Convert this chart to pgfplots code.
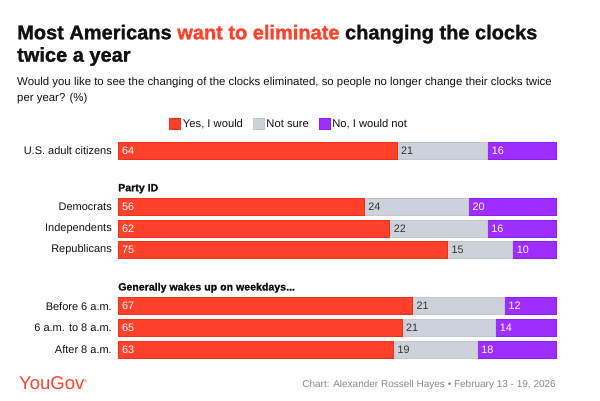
\documentclass[border=0pt]{standalone}
\usepackage{pgfplots}
\pgfplotsset{compat=1.18}
\usepackage{pgfplotstable}
\usepackage{fontspec}
\setmainfont{Liberation Sans}
\newfontfamily\heavy{Liberation Sans Bold}[FakeBold=1.3]

\definecolor{ink}{HTML}{111111}
\definecolor{ygred}{HTML}{FF412C}
\definecolor{ygredd}{HTML}{EC3320}
\definecolor{ygrey}{HTML}{CDD1DA}
\definecolor{ygreyd}{HTML}{C3C7D0}
\definecolor{ygpurp}{HTML}{9E2EFF}
\definecolor{ygpurpd}{HTML}{8C20EE}
\definecolor{foot}{HTML}{8A8A8A}

% y = row centre in pixels, shares, labels as printed
\pgfplotstableread{
y     yes   ns    no    yl  nl  ol
150.8 63.7  20.7  15.6  64  21  16
207   56.2  23.8  20.0  56  24  20
228.7 62.0  22.3  15.7  62  22  16
249.7 75.2  14.9  9.9   75  15  10
306.2 67.2  21.0  11.8  67  21  12
328   64.8  21.4  13.8  65  21  14
349.7 62.9  19.1  18.0  63  19  18
}\data

\pgfplotsset{
  sq/.style={legend image code/.code={\draw[##1,line width=0.5pt] (0pt,-5.5pt) rectangle (11pt,5.5pt);}},
  frame/.style={at={(118pt,-140pt)}, anchor=north west, scale only axis,
    width=438pt, height=222pt, xmin=0, xmax=100, ymin=140, ymax=362,
    y dir=reverse, clip=false},
}

\begin{document}
\begin{tikzpicture}[x=1pt,y=1pt]
\useasboundingbox[fill=white] (0,0) rectangle (600,-400);

\node[anchor=base west, inner sep=0, text=ink, font=\fontsize{20}{22}\heavy]
  at (17,-39.3) {Most Americans \textcolor{ygred}{want to eliminate} changing the clocks};
\node[anchor=base west, inner sep=0, text=ink, font=\fontsize{20}{22}\heavy]
  at (17,-61.7) {twice a year};
\node[anchor=base west, inner sep=0, text=ink, font=\fontsize{11.4}{13}\selectfont]
  at (17,-85) {Would you like to see the changing of the clocks eliminated, so people no longer change their clocks twice};
\node[anchor=base west, inner sep=0, text=ink, font=\fontsize{11.4}{13}\selectfont]
  at (17,-101) {per year? (\%)};

\node[anchor=base west, inner sep=0, text=ink, font=\fontsize{10.6}{12}\heavy]
  at (118,-191.3) {Party ID};
\node[anchor=base west, inner sep=0, text=ink, font=\fontsize{10.6}{12}\heavy]
  at (118,-290.5) {Generally wakes up on weekdays...};

\begin{axis}[frame,
  xbar stacked, bar width=17pt,
  axis line style={draw=none}, tick style={draw=none}, major tick length=0pt,
  xtick=\empty,
  ytick={150.8,207,228.7,249.7,306.2,328,349.7},
  yticklabels={U.S. adult citizens,Democrats,Independents,Republicans,Before 6 a.m.,6 a.m. to 8 a.m.,After 8 a.m.},
  yticklabel style={font=\fontsize{11}{13}\selectfont, text=ink, inner sep=0pt, xshift=-6pt},
  legend columns=3,
  legend style={at={(axis cs:39.1,124)}, anchor=center, draw=none, fill=none,
    font=\fontsize{11.2}{13}\selectfont, text=ink,
    /tikz/every even column/.append style={column sep=8pt}},
]
\addplot[fill=ygred, draw=ygredd, line width=0.5pt, sq] table[x=yes, y=y]{\data};
\addlegendentry{Yes, I would}
\addplot[fill=ygrey, draw=ygreyd, line width=0.5pt, sq] table[x=ns, y=y]{\data};
\addlegendentry{Not sure}
\addplot[fill=ygpurp, draw=ygpurpd, line width=0.5pt, sq] table[x=no, y=y]{\data};
\addlegendentry{No, I would not}
\end{axis}

\begin{axis}[frame, hide axis,
  every node near coord/.append style={anchor=west, xshift=4pt, inner sep=0pt,
    font=\fontsize{10.8}{12}\selectfont}]
\addplot[draw=none, nodes near coords, point meta=explicit symbolic,
  every node near coord/.append style={text=white}]
  table[x expr=0, y=y, meta=yl]{\data};
\addplot[draw=none, nodes near coords, point meta=explicit symbolic,
  every node near coord/.append style={text=ink!85}]
  table[x=yes, y=y, meta=nl]{\data};
\addplot[draw=none, nodes near coords, point meta=explicit symbolic,
  every node near coord/.append style={text=white}]
  table[x expr=\thisrow{yes}+\thisrow{ns}, y=y, meta=ol]{\data};
\end{axis}

\node[anchor=base west, inner sep=0, text=ygred, font=\fontsize{18.5}{20}\selectfont]
  at (19,-389) {YouGov\raisebox{6.5pt}{\fontsize{4}{4}\selectfont ®}};
\node[anchor=base east, inner sep=0, text=foot, font=\fontsize{10}{12}\selectfont]
  at (556,-387.3) {Chart: Alexander Rossell Hayes • February 13 - 19, 2026};
\end{tikzpicture}
\end{document}
